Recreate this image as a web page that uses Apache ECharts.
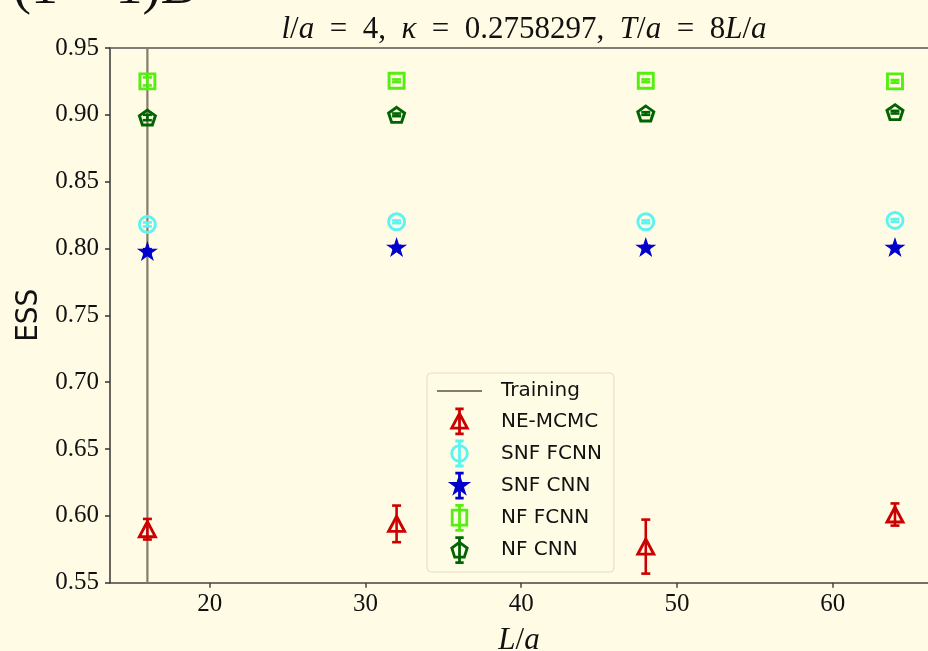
<!DOCTYPE html>
<html>
<head>
<meta charset="utf-8">
<script src="https://cdn.jsdelivr.net/npm/echarts@6/dist/echarts.min.js"></script>
<style>html,body{margin:0;padding:0;background:#fffbe5;}#c{width:928px;height:651px;}</style>
</head>
<body>
<div id="c"></div>
<script>
// ---- data ----
const L = [16, 32, 48, 64];
const xTicks = [20, 30, 40, 50, 60];
const trainingL = 16;

const neMcmc = [0.590, 0.594, 0.577, 0.601];
const neMcmcErr = [0.0077, 0.0137, 0.0202, 0.0083];
const snfFcnn = [0.818, 0.820, 0.820, 0.821];
const snfFcnnErr = [0.0015, 0.001, 0.001, 0.001];
const snfCnn = [0.798, 0.801, 0.801, 0.801];
const snfCnnErr = [0.0015, 0.001, 0.001, 0.001];
const nfFcnn = [0.925, 0.9255, 0.9255, 0.925];
const nfFcnnErr = [0.003, 0.001, 0.001, 0.001];
const nfCnn = [0.898, 0.900, 0.901, 0.902];
const nfCnnErr = [0.002, 0.001, 0.001, 0.001];

// ---- styles ----
const BG = '#fffbe5';
const C_RED = '#cc0000', C_CYAN = '#5cf3f3', C_BLUE = '#0000cc', C_LG = '#55ee11', C_DG = '#006400', C_TR = '#877b6b';
const SERIF = '"Liberation Serif", "DejaVu Serif", serif';
const SANS = '"DejaVu Sans", sans-serif';
const SANS_C = '"DejaVu Sans Condensed", "DejaVu Sans", sans-serif';

const PENT = 'path://M50 0 L97.55 34.55 L79.39 90.45 L20.61 90.45 L2.45 34.55 Z';
const STAR = 'path://M50 0 L61.2 34.5 L97.6 34.5 L68.2 55.9 L79.4 90.5 L50 69.1 L20.6 90.5 L31.8 55.9 L2.4 34.5 L38.8 34.5 Z';

const BAR = 'M8 0 L8 24 M4 0 L12 0 M4 24 L12 24 ';
const ICON_LINE = 'path://M0 0 L45 0 L45 2.2 L0 2.2 Z';
const ICON_TRI = 'path://' + BAR + 'M8 4.5 L0.5 18.5 L15.5 18.5 Z';
const ICON_CIRC = 'path://' + BAR + 'M15.5 12 A7.5 7.5 0 1 1 0.5 12 A7.5 7.5 0 1 1 15.5 12 Z';
const ICON_STAR = 'path://' + BAR + 'M8 4.5 L9.68 9.68 L15.13 9.68 L10.72 12.89 L12.41 18.07 L8 14.87 L3.59 18.07 L5.28 12.89 L0.87 9.68 L6.32 9.68 Z';
const ICON_SQ = 'path://' + BAR + 'M1 4.5 L15 4.5 L15 19 L1 19 Z';
const ICON_PENT = 'path://' + BAR + 'M8 4.5 L15.4 10 L12.6 18.8 L3.4 18.8 L0.6 10 Z';

function pts(vals) { return L.map((x, i) => [x, vals[i]]); }
function errData(vals, errs) { return L.map((x, i) => [x, vals[i] - errs[i], vals[i] + errs[i]]); }

function errSeries(name, vals, errs, color) {
  return {
    name: name, type: 'custom', z: 3,
    data: errData(vals, errs),
    renderItem: function (params, api) {
      const x = api.value(0);
      const p1 = api.coord([x, api.value(1)]);
      const p2 = api.coord([x, api.value(2)]);
      const w = 4.5;
      const st = { stroke: color, lineWidth: 2.6, fill: null };
      return {
        type: 'group',
        children: [
          { type: 'line', shape: { x1: p1[0], y1: p1[1], x2: p2[0], y2: p2[1] }, style: st },
          { type: 'line', shape: { x1: p1[0] - w, y1: p1[1], x2: p1[0] + w, y2: p1[1] }, style: st },
          { type: 'line', shape: { x1: p2[0] - w, y1: p2[1], x2: p2[0] + w, y2: p2[1] }, style: st }
        ]
      };
    }
  };
}

function markSeries(name, vals, symbol, size, color, filled) {
  return {
    name: name, type: 'scatter', z: 4,
    symbol: symbol, symbolSize: size,
    data: pts(vals),
    itemStyle: { color: filled ? color : 'rgba(0,0,0,0)', borderColor: color, borderWidth: filled ? 1 : 2.9, opacity: 1 },
    emphasis: { disabled: true }
  };
}

const chart = echarts.init(document.getElementById('c'), null, { renderer: 'canvas' });

const EQ = '\u2002=\u2002';
const option = {
  backgroundColor: BG,
  animation: false,
  title: {
    text: '{i|l}/{i|a}' + EQ + '4,\u2002{i|κ}' + EQ + '0.2758297,\u2002{i|T}/{i|a}' + EQ + '8{i|L}/{i|a}',
    left: 519, top: 9, textAlign: 'center',
    textStyle: {
      fontFamily: SERIF, fontSize: 31, fontWeight: 'normal', color: '#111',
      rich: { i: { fontFamily: SERIF, fontSize: 31, fontStyle: 'italic', color: '#111' } }
    }
  },
  graphic: [
    { type: 'text', left: 13, top: -38, style: { text: '(1 + 1)D', font: '54px ' + SERIF, fill: '#111' }, z: 10 }
  ],
  grid: { left: 110, top: 48, right: 0, bottom: 68.3, show: false, outerBoundsMode: 'none', containLabel: false },
  xAxis: [{
    type: 'value', min: 13.599, max: 66.12,
    name: '{i|L}/{i|a}', nameLocation: 'middle', nameGap: 43,
    nameTextStyle: { fontFamily: SERIF, fontSize: 31, color: '#111', rich: { i: { fontFamily: SERIF, fontSize: 31, fontStyle: 'italic', color: '#111' } } },
    axisLine: { show: true, onZero: false, lineStyle: { color: '#444', width: 1.5 } },
    axisTick: { show: true, customValues: xTicks, length: 5, lineStyle: { color: '#444', width: 1.5 } },
    axisLabel: { customValues: xTicks, margin: 9, fontFamily: SERIF, fontSize: 25, color: '#111' },
    splitLine: { show: false }
  }, {
    type: 'value', position: 'top', min: 13.599, max: 66.12,
    axisLine: { show: true, onZero: false, lineStyle: { color: '#555', width: 1.5 } },
    axisTick: { show: false }, axisLabel: { show: false }, splitLine: { show: false }
  }],
  yAxis: {
    type: 'value', min: 0.55, max: 0.95, interval: 0.05,
    name: 'ESS', nameLocation: 'middle', nameGap: 59, nameRotate: 90,
    nameTextStyle: { fontFamily: SANS_C, fontSize: 31, color: '#111' },
    axisLine: { show: true, onZero: false, lineStyle: { color: '#333', width: 1.5 } },
    axisTick: { show: true, length: 5, lineStyle: { color: '#333', width: 1.5 } },
    axisLabel: { margin: 11, fontFamily: SERIF, fontSize: 25, color: '#111', formatter: v => v.toFixed(2) },
    splitLine: { show: false }
  },
  legend: {
    orient: 'vertical', left: 427, top: 373,
    padding: [6, 12, 8, 10],
    itemWidth: 45, itemHeight: 25, itemGap: 4.4,
    backgroundColor: 'rgba(255,251,229,0.85)', borderColor: '#e6dcc4', borderWidth: 1, borderRadius: 4,
    textStyle: { fontFamily: SANS, fontSize: 20, lineHeight: 24, color: '#111', padding: [0, 0, 0, 14] },
    selectedMode: false,
    data: [
      { name: 'Training', icon: ICON_LINE, itemStyle: { color: C_TR, borderWidth: 0 } },
      { name: 'NE-MCMC', icon: ICON_TRI, itemStyle: { color: 'rgba(0,0,0,0)', borderColor: C_RED, borderWidth: 2.8 } },
      { name: 'SNF FCNN', icon: ICON_CIRC, itemStyle: { color: 'rgba(0,0,0,0)', borderColor: C_CYAN, borderWidth: 2.8 } },
      { name: 'SNF CNN', icon: ICON_STAR, itemStyle: { color: C_BLUE, borderColor: C_BLUE, borderWidth: 2.8 } },
      { name: 'NF FCNN', icon: ICON_SQ, itemStyle: { color: 'rgba(0,0,0,0)', borderColor: C_LG, borderWidth: 2.8 } },
      { name: 'NF CNN', icon: ICON_PENT, itemStyle: { color: 'rgba(0,0,0,0)', borderColor: C_DG, borderWidth: 2.8 } }
    ]
  },
  series: [
    {
      name: 'Training', type: 'line', symbol: 'none', z: 2,
      data: [[trainingL, 0.55], [trainingL, 0.95]],
      lineStyle: { color: C_TR, width: 2.2 }, itemStyle: { color: C_TR }
    },
    errSeries('NE-MCMC err', neMcmc, neMcmcErr, C_RED),
    errSeries('SNF FCNN err', snfFcnn, snfFcnnErr, C_CYAN),
    errSeries('SNF CNN err', snfCnn, snfCnnErr, C_BLUE),
    errSeries('NF FCNN err', nfFcnn, nfFcnnErr, C_LG),
    errSeries('NF CNN err', nfCnn, nfCnnErr, C_DG),
    markSeries('NE-MCMC', neMcmc, 'triangle', [16, 15], C_RED, false),
    markSeries('SNF FCNN', snfFcnn, 'circle', 16, C_CYAN, false),
    markSeries('SNF CNN', snfCnn, STAR, [18, 17], C_BLUE, true),
    markSeries('NF FCNN', nfFcnn, 'rect', 15, C_LG, false),
    markSeries('NF CNN', nfCnn, PENT, [16, 15], C_DG, false)
  ]
};
chart.setOption(option);
</script>
</body>
</html>
